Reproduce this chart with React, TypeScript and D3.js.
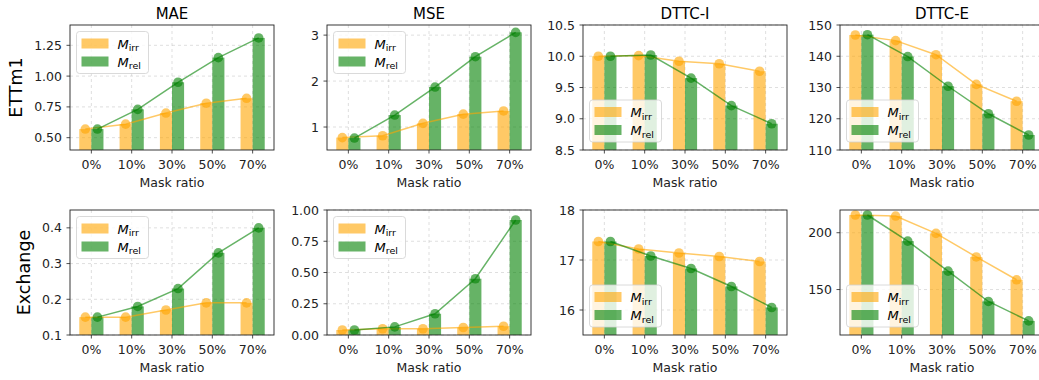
import React from "react";
import * as d3 from "d3";

const categories = ["0%", "10%", "30%", "50%", "70%"];
const metricTitles = ["MAE", "MSE", "DTTC-I", "DTTC-E"];
const datasetLabels = ["ETTm1", "Exchange"];

// ETTm1
const ettMaeIrr = [0.57, 0.61, 0.7, 0.78, 0.82];
const ettMaeRel = [0.57, 0.73, 0.95, 1.15, 1.31];
const ettMseIrr = [0.77, 0.81, 1.08, 1.28, 1.35];
const ettMseRel = [0.76, 1.26, 1.87, 2.53, 3.06];
const ettDtiIrr = [10.0, 10.01, 9.92, 9.88, 9.76];
const ettDtiRel = [10.0, 10.02, 9.65, 9.21, 8.92];
const ettDteIrr = [146.8, 145.0, 140.5, 131.0, 125.6];
const ettDteRel = [146.9, 139.9, 130.4, 121.6, 114.8];

// Exchange
const exMaeIrr = [0.15, 0.15, 0.17, 0.19, 0.19];
const exMaeRel = [0.15, 0.18, 0.23, 0.33, 0.4];
const exMseIrr = [0.04, 0.05, 0.05, 0.06, 0.07];
const exMseRel = [0.04, 0.065, 0.17, 0.45, 0.92];
const exDtiIrr = [17.37, 17.22, 17.14, 17.07, 16.97];
const exDtiRel = [17.37, 17.08, 16.83, 16.47, 16.05];
const exDteIrr = [215.6, 214.7, 199.4, 178.7, 158.6];
const exDteRel = [215.6, 192.6, 166.2, 139.5, 122.4];

// y tick values per panel
const ettMaeTicks = [0.5, 0.75, 1.0, 1.25];
const ettMseTicks = [1, 2, 3];
const ettDtiTicks = [8.5, 9.0, 9.5, 10.0, 10.5];
const ettDteTicks = [110, 120, 130, 140, 150];
const exMaeTicks = [0.1, 0.2, 0.3, 0.4];
const exMseTicks = [0, 0.25, 0.5, 0.75, 1.0];
const exDtiTicks = [16, 17, 18];
const exDteTicks = [150, 200];

const IRR = "orange";
const REL = "green";
const FONT = "DejaVu Sans, sans-serif";

interface PanelSpec {
  irr: number[];
  rel: number[];
  domain: [number, number];
  ticks: number[];
  fmt: string;
  legend: "upper" | "lower";
}

const panels: PanelSpec[][] = [
  [
    { irr: ettMaeIrr, rel: ettMaeRel, domain: [0.4, 1.415], ticks: ettMaeTicks, fmt: ".2f", legend: "upper" },
    { irr: ettMseIrr, rel: ettMseRel, domain: [0.5, 3.22], ticks: ettMseTicks, fmt: "d", legend: "upper" },
    { irr: ettDtiIrr, rel: ettDtiRel, domain: [8.5, 10.5], ticks: ettDtiTicks, fmt: ".1f", legend: "lower" },
    { irr: ettDteIrr, rel: ettDteRel, domain: [110, 150], ticks: ettDteTicks, fmt: "d", legend: "lower" },
  ],
  [
    { irr: exMaeIrr, rel: exMaeRel, domain: [0.1, 0.45], ticks: exMaeTicks, fmt: ".1f", legend: "upper" },
    { irr: exMseIrr, rel: exMseRel, domain: [0, 1], ticks: exMseTicks, fmt: ".2f", legend: "upper" },
    { irr: exDtiIrr, rel: exDtiRel, domain: [15.5, 18], ticks: exDtiTicks, fmt: "d", legend: "lower" },
    { irr: exDteIrr, rel: exDteRel, domain: [110, 220], ticks: exDteTicks, fmt: "d", legend: "lower" },
  ],
];

const colX = [70, 327, 583, 840];
const rowY = [25, 210];
const W = 204;
const H = 125;

const Legend: React.FC<{ y: number }> = ({ y }) => (
  <g transform={`translate(6.5, ${y})`}>
    <rect width={72} height={42} rx={3} fill="white" fillOpacity={0.8} stroke="#d0d0d0" strokeWidth={0.8} />
    {[
      { c: IRR, sub: "irr" },
      { c: REL, sub: "rel" },
    ].map((d, i) => (
      <g key={d.sub} transform={`translate(0, ${7 + i * 18})`}>
        <rect x={5} width={27} height={10} fill={d.c} opacity={0.6} />
        <text x={41} y={10} fontFamily={FONT} fontSize={13} fill="#000">
          <tspan fontStyle="italic">M</tspan>
          <tspan fontSize={9.5} dy={2.5}>{d.sub}</tspan>
        </text>
      </g>
    ))}
  </g>
);

const Panel: React.FC<{ spec: PanelSpec; x0: number; y0: number; title?: string; clipId: string }> = ({
  spec,
  x0,
  y0,
  title,
  clipId,
}) => {
  const x = d3.scaleLinear().domain([-0.53, 4.53]).range([0, W]);
  const y = d3.scaleLinear().domain(spec.domain).range([H, 0]);
  const fmt = d3.format(spec.fmt);
  const bw = x(0.3) - x(0);
  const offs = [
    { vals: spec.irr, c: IRR, dx: -0.15 },
    { vals: spec.rel, c: REL, dx: 0.15 },
  ];

  return (
    <g transform={`translate(${x0}, ${y0})`}>
      <defs>
        <clipPath id={clipId}>
          <rect width={W} height={H} />
        </clipPath>
      </defs>
      {/* grid */}
      {categories.map((_, i) => (
        <line key={"gx" + i} x1={x(i)} x2={x(i)} y1={0} y2={H} stroke="#b0b0b0" strokeOpacity={0.5} strokeDasharray="3,3" strokeWidth={0.8} />
      ))}
      {spec.ticks.map((t) => (
        <line key={"gy" + t} x1={0} x2={W} y1={y(t)} y2={y(t)} stroke="#b0b0b0" strokeOpacity={0.5} strokeDasharray="3,3" strokeWidth={0.8} />
      ))}
      <g clipPath={`url(#${clipId})`}>
        {offs.map((s) =>
          s.vals.map((v, i) => (
            <rect key={s.c + i} x={x(i + s.dx) - bw / 2} y={y(v)} width={bw} height={H - y(v) + 2} fill={s.c} opacity={0.6} />
          ))
        )}
        {offs.map((s) => {
          const line = d3
            .line<number>()
            .x((_, i) => x(i + s.dx))
            .y((d) => y(d));
          return (
            <g key={"l" + s.c}>
              <path d={line(s.vals) || ""} fill="none" stroke={s.c} strokeWidth={1.5} strokeOpacity={0.6} />
              {s.vals.map((v, i) => (
                <circle key={i} cx={x(i + s.dx)} cy={y(v)} r={4.8} fill={s.c} opacity={0.6} />
              ))}
            </g>
          );
        })}
      </g>
      <Legend y={spec.legend === "upper" ? 6.5 : H - 50} />
      {/* frame */}
      <rect width={W} height={H} fill="none" stroke="#222" strokeWidth={0.9} />
      {/* x ticks */}
      {categories.map((c, i) => (
        <g key={c} transform={`translate(${x(i)}, ${H})`}>
          <line y2={3.5} stroke="#222" strokeWidth={0.8} />
          <text y={18.5} textAnchor="middle" fontFamily={FONT} fontSize={12.5} fill="#222">
            {c}
          </text>
        </g>
      ))}
      {/* y ticks */}
      {spec.ticks.map((t) => (
        <g key={t} transform={`translate(0, ${y(t)})`}>
          <line x2={-3.5} stroke="#222" strokeWidth={0.8} />
          <text x={-8} dy="0.36em" textAnchor="end" fontFamily={FONT} fontSize={12.5} fill="#222">
            {fmt(t)}
          </text>
        </g>
      ))}
      <text x={W / 2} y={H + 36.5} textAnchor="middle" fontFamily={FONT} fontSize={12.5} fill="#222">
        Mask ratio
      </text>
      {title && (
        <text x={W / 2} y={-6.5} textAnchor="middle" fontFamily={FONT} fontSize={15} fill="#000">
          {title}
        </text>
      )}
    </g>
  );
};

export default function App() {
  return (
    <svg width={1039} height={380} style={{ position: "absolute", left: 0, top: 0, background: "white" }}>
      <rect width={1039} height={380} fill="white" />
      {panels.map((row, r) =>
        row.map((spec, c) => (
          <Panel
            key={`${r}-${c}`}
            spec={spec}
            x0={colX[c]}
            y0={rowY[r]}
            title={r === 0 ? metricTitles[c] : undefined}
            clipId={`clip-${r}-${c}`}
          />
        ))
      )}
      <text transform={`translate(22, ${rowY[0] + H / 2}) rotate(-90)`} textAnchor="middle" fontFamily={FONT} fontSize={17.5} fill="#000">
        {datasetLabels[0]}
      </text>
      <text transform={`translate(30, ${rowY[1] + H / 2}) rotate(-90)`} textAnchor="middle" fontFamily={FONT} fontSize={17.5} fill="#000">
        {datasetLabels[1]}
      </text>
    </svg>
  );
}
